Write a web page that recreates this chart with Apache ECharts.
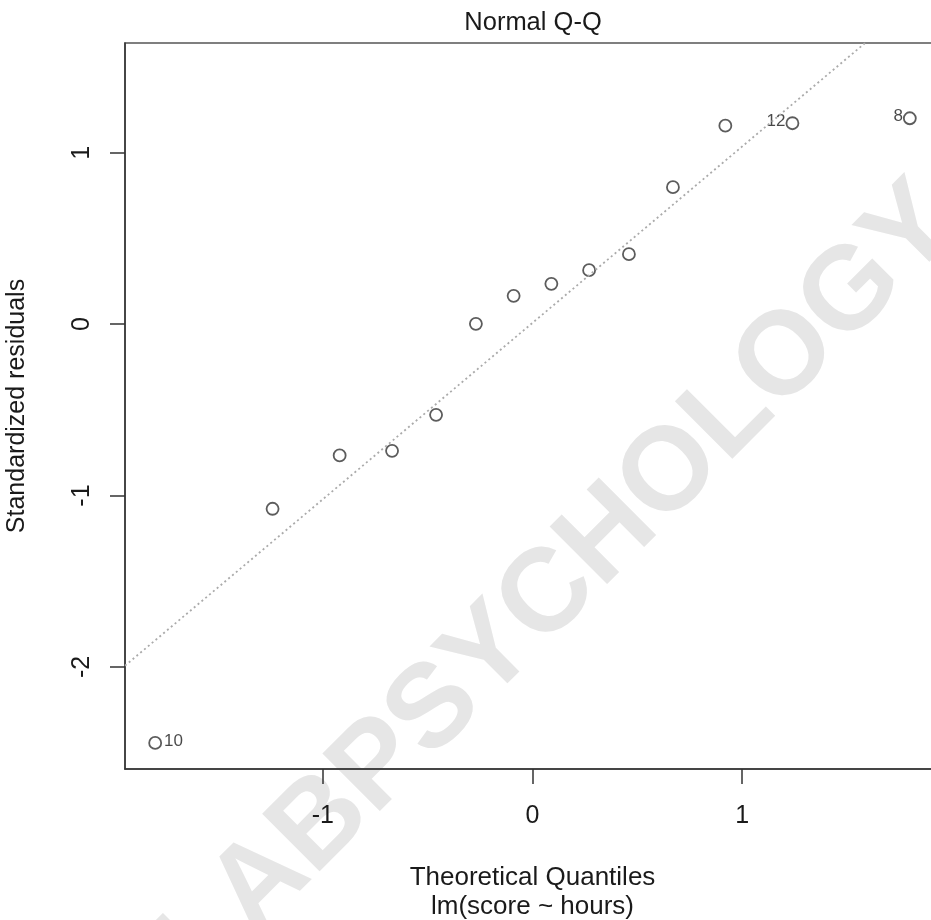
<!DOCTYPE html>
<html><head><meta charset="utf-8">
<script src="https://cdn.jsdelivr.net/npm/echarts@6/dist/echarts.min.js"></script>
<style>html,body{margin:0;padding:0;background:#fff}#c{width:931px;height:920px}</style>
</head><body><div id="c"></div>
<script>
const theoreticalQuantiles = [-1.80,-1.24,-0.92,-0.67,-0.46,-0.27,-0.09,0.09,0.27,0.46,0.67,0.92,1.24,1.80];
const standardizedResiduals = [-2.443,-1.077,-0.766,-0.739,-0.529,0.002,0.165,0.235,0.315,0.408,0.799,1.158,1.172,1.201];
const pointLabels = ['10','','','','','','','','','','','','12','8'];
const xTicks = [-1,0,1];
const yTicks = [-2,-1,0,1];
const xRange = [-1.944, 1.944];
const yRange = [-2.595, 1.64];

// qqline through the quartiles (type 7)
function q7(arr, p){const s=[...arr].sort((a,b)=>a-b);const h=(s.length-1)*p;const lo=Math.floor(h);return s[lo]+(h-lo)*((s[lo+1]??s[lo])-s[lo]);}
const qx = 0.6744898;
const y1 = q7(standardizedResiduals,0.25), y3 = q7(standardizedResiduals,0.75);
const slope = (y3-y1)/(2*qx), icpt = (y1+y3)/2;
const lineData = xRange.map(x=>[x, icpt+slope*x]);

const FONT = 'Liberation Sans, Arial, Helvetica, sans-serif';
const pts = theoreticalQuantiles.map((x,i)=>{
  const lab = pointLabels[i];
  const item = {value:[x, standardizedResiduals[i]]};
  if(lab){
    item.label = {show:true, formatter: lab, position: i===0?'right':'left', distance: i===0?2:0,
      color:'#1a1a1a', fontSize:17, fontFamily:FONT, offset:[0,-2]};
  }
  return item;
});

const chart = echarts.init(document.getElementById('c'), null, {renderer:'canvas'});
chart.setOption({
  animation:false,
  backgroundColor:'#fff',
  title:{text:'Normal Q-Q', left:533, top:10, padding:0, textAlign:'center',
    textStyle:{fontSize:25.5, fontWeight:'normal', color:'#1a1a1a', fontFamily:FONT}},
  graphic:[{type:'text', z:-10, x:560, y:585, rotation:0.785,
    style:{text:'LABPSYCHOLOGY', fill:'#e6e6e6', font:'bold 118px '+FONT, align:'center', verticalAlign:'middle'}}],
  grid:{left:125, top:43, right:-9, bottom:151, outerBoundsMode:'none', containLabel:false,
    show:true, borderColor:'#555', borderWidth:1.5, backgroundColor:'transparent'},
  xAxis:{type:'value', min:xRange[0], max:xRange[1],
    name:'Theoretical Quantiles\nlm(score ~ hours)', nameLocation:'middle', nameGap:94,
    nameTextStyle:{fontSize:26, color:'#1a1a1a', fontFamily:FONT, lineHeight:29},
    axisLine:{show:true, onZero:false, lineStyle:{color:'#333', width:1.5}},
    axisTick:{show:true, length:15, customValues:xTicks, lineStyle:{color:'#333', width:1.5}},
    axisLabel:{customValues:xTicks, margin:35, fontSize:25, color:'#1a1a1a', fontFamily:FONT},
    splitLine:{show:false}},
  yAxis:{type:'value', min:yRange[0], max:yRange[1],
    name:'Standardized residuals', nameLocation:'middle', nameGap:95,
    nameTextStyle:{fontSize:25, color:'#1a1a1a', fontFamily:FONT},
    axisLine:{show:true, onZero:false, lineStyle:{color:'#333', width:1.5}},
    axisTick:{show:true, length:15, customValues:yTicks, lineStyle:{color:'#333', width:1.5}},
    axisLabel:{customValues:yTicks, rotate:90, margin:30, fontSize:25, color:'#1a1a1a', fontFamily:FONT},
    splitLine:{show:false}},
  series:[
    {type:'line', data:lineData, symbol:'none', clip:true, silent:true,
      lineStyle:{color:'#aaa', width:1.8, type:[2,3]}},
    {type:'scatter', data:pts, symbol:'circle', symbolSize:12,
      itemStyle:{color:'rgba(255,255,255,0)', borderColor:'#333', borderWidth:1.8}}
  ]
});
</script></body></html>
